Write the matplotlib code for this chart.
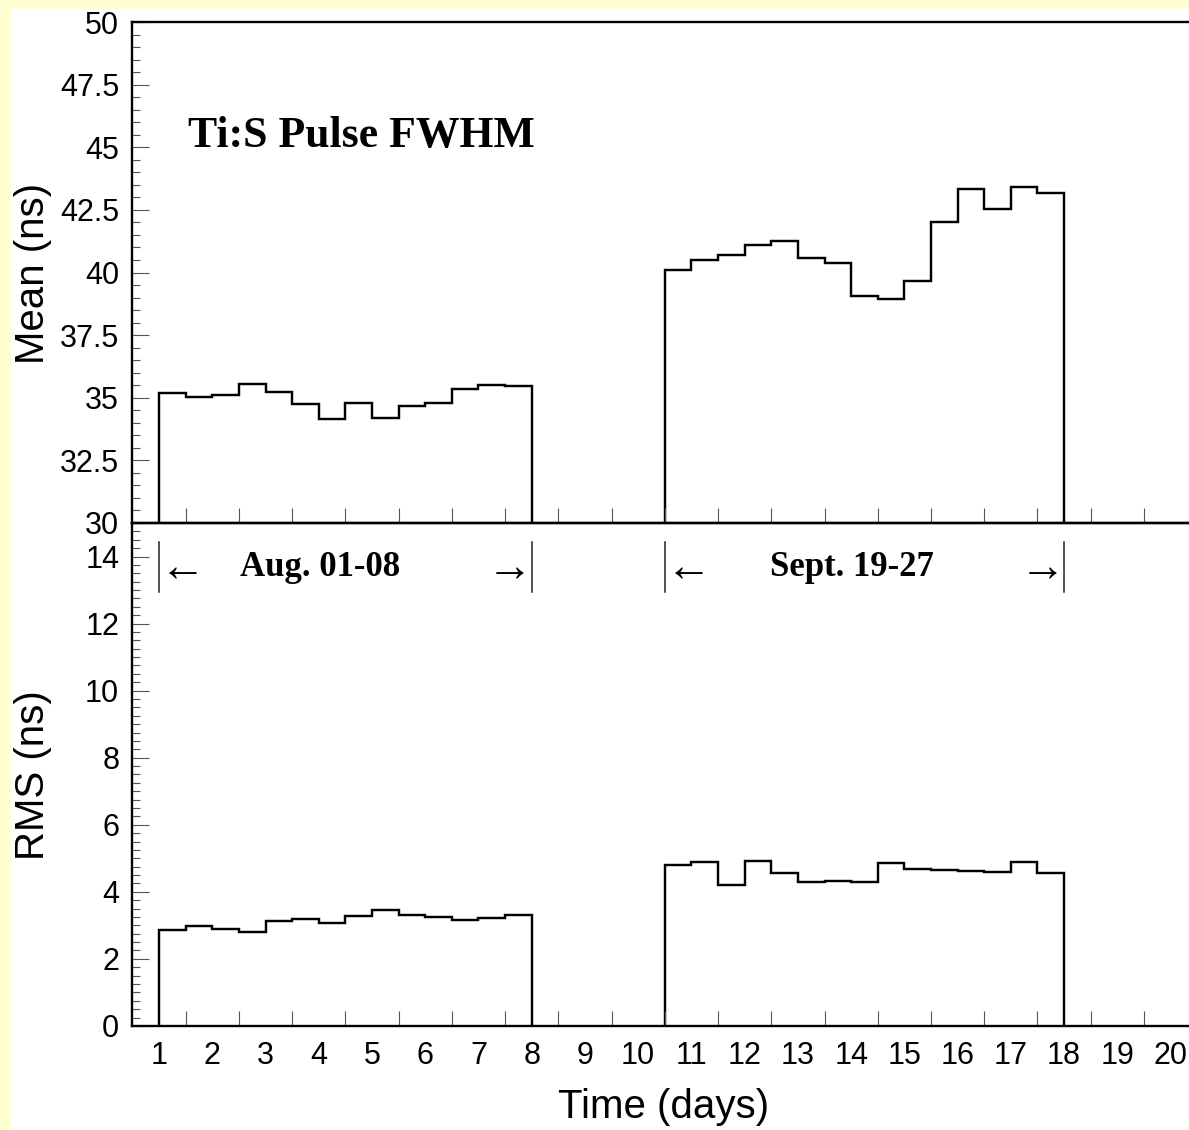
import numpy as np
import matplotlib
matplotlib.use("Agg")
import matplotlib.pyplot as plt
from matplotlib.patches import Rectangle

# ---- data -------------------------------------------------------------
bin_width = 0.5                      # days per bin
aug_start = 1.0                      # first bin edge, August run
sept_start = 10.5                    # first bin edge, September run

aug_mean = [35.20, 35.02, 35.11, 35.55, 35.24, 34.74, 34.14,
            34.78, 34.18, 34.68, 34.79, 35.35, 35.51, 35.47]
sept_mean = [40.10, 40.50, 40.70, 41.10, 41.27, 40.59, 40.37, 39.07,
             38.94, 39.66, 42.00, 43.32, 42.53, 43.40, 43.16]

aug_rms = [2.86, 2.98, 2.88, 2.80, 3.12, 3.19, 3.07,
           3.29, 3.47, 3.30, 3.26, 3.16, 3.22, 3.30]
sept_rms = [4.80, 4.88, 4.20, 4.93, 4.56, 4.30, 4.33, 4.30,
            4.85, 4.68, 4.65, 4.61, 4.58, 4.90, 4.55]

day_labels = [str(d) for d in range(1, 21)]
mean_ticks = [30, 32.5, 35, 37.5, 40, 42.5, 45, 47.5, 50]
mean_tick_labels = ["30", "32.5", "35", "37.5", "40", "42.5", "45", "47.5", "50"]
rms_ticks = [0, 2, 4, 6, 8, 10, 12, 14]
rms_tick_labels = ["0", "2", "4", "6", "8", "10", "12", "14"]

title_text = "Ti:S Pulse FWHM"
aug_text = "Aug. 01-08"
sept_text = "Sept. 19-27"

# ---- figure -----------------------------------------------------------
W, H = 1189, 1130
fig = plt.figure(figsize=(W / 100, H / 100), dpi=100)
fig.patch.set_facecolor("#FFFFD0")
fig.patches.append(Rectangle((11 / W, 0), 1 - 11 / W, 1 - 9 / H,
                             transform=fig.transFigure, facecolor="white",
                             edgecolor="none", zorder=-10))

sans = ["Liberation Sans", "DejaVu Sans"]
serif = ["Liberation Serif", "DejaVu Serif"]

left = 132.4 / W
width = 1064.8 / W
ax_top = fig.add_axes([left, (H - 523) / H, width, 501 / H])
ax_bot = fig.add_axes([left, (H - 1025.9) / H, width, 502.9 / H])

lw_hist = 1.75
lw_spine = 1.7


def edges_for(start, values):
    return start + bin_width * np.arange(len(values) + 1)


def style_axes(ax, ylim, yticks, yticklabels, minor_step):
    ax.set_facecolor("none")
    ax.set_xlim(0.5, 20.5)
    ax.set_ylim(*ylim)
    for side in ("left", "top", "bottom"):
        ax.spines[side].set_linewidth(lw_spine)
    ax.spines["right"].set_visible(False)
    ax.set_yticks(yticks)
    ax.set_yticklabels(yticklabels, fontsize=22, family=sans)
    ax.set_yticks(np.arange(ylim[0], ylim[1] + 1e-9, minor_step), minor=True)
    ax.tick_params(axis="y", which="major", direction="in", length=12.2,
                   width=0.8, color="#555555", pad=9.5)
    ax.tick_params(axis="y", which="minor", direction="in", length=5.8,
                   width=0.8, color="#555555")
    # tick marks sit on day boundaries, labels at day centres
    ax.set_xticks(np.arange(1, 21))
    ax.set_xticks(np.arange(1.5, 20.0, 1.0), minor=True)
    ax.tick_params(axis="x", which="major", length=0, pad=11)
    ax.tick_params(axis="x", which="minor", direction="in", length=10.8,
                   width=0.8, color="#555555")


style_axes(ax_top, (30, 50), mean_ticks, mean_tick_labels, 0.5)
style_axes(ax_bot, (0, 15), rms_ticks, rms_tick_labels, 0.25)
ax_top.set_xticklabels([])
ax_bot.set_xticklabels(day_labels, fontsize=22, family=sans)

# ---- histograms -------------------------------------------------------
ax_top.stairs(aug_mean, edges_for(aug_start, aug_mean), baseline=30,
              color="black", lw=lw_hist)
ax_top.stairs(sept_mean, edges_for(sept_start, sept_mean), baseline=30,
              color="black", lw=lw_hist)
ax_bot.stairs(aug_rms, edges_for(aug_start, aug_rms), baseline=0,
              color="black", lw=lw_hist)
ax_bot.stairs(sept_rms, edges_for(sept_start, sept_rms), baseline=0,
              color="black", lw=lw_hist)

# ---- annotations ------------------------------------------------------
ax_top.text(1.55, 45.45, title_text, fontsize=31.5, fontweight="bold",
            family=serif, ha="left", va="center")


def period_marker(ax, x0, x1, xlabel, label):
    ax.plot([x0, x0], [12.94, 14.43], color="#222222", lw=1.1)
    ax.plot([x1, x1], [12.94, 14.43], color="#222222", lw=1.1)
    yc = 13.66
    ax.text(x0 + 0.44, yc - 0.05, "\u2190", fontsize=33, family=serif,
            ha="center", va="center")
    ax.text(x1 - 0.41, yc - 0.05, "\u2192", fontsize=33, family=serif,
            ha="center", va="center")
    ax.text(xlabel, yc, label, fontsize=25, fontweight="bold",
            family=serif, ha="center", va="center")


period_marker(ax_bot, aug_start, edges_for(aug_start, aug_rms)[-1], 4.02, aug_text)
period_marker(ax_bot, sept_start, edges_for(sept_start, sept_rms)[-1], 14.02, sept_text)

# ---- axis titles ------------------------------------------------------
fig.text(33 / W, 1 - 273 / H, "Mean (ns)", rotation=90, fontsize=29,
         family=sans, ha="center", va="center")
fig.text(33 / W, 1 - 775 / H, "RMS (ns)", rotation=90, fontsize=29,
         family=sans, ha="center", va="center")
fig.text(664 / W, 1 - 1107 / H, "Time (days)", fontsize=29,
         family=sans, ha="center", va="center")

fig.savefig("out.png", dpi=100)
